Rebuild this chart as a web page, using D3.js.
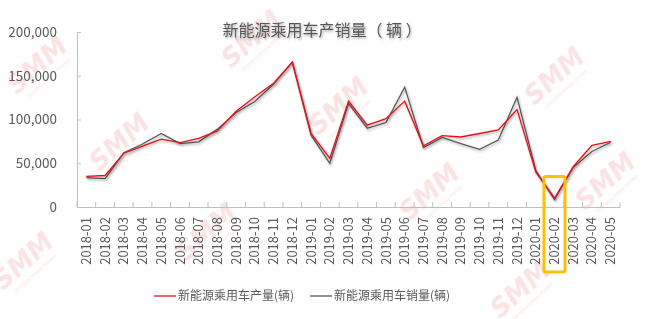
<!DOCTYPE html>
<html>
<head>
<meta charset="utf-8">
<script src="https://cdn.jsdelivr.net/npm/d3@7"></script>
<style>
  body { margin: 0; background: #fff; }
  text { font-family: "Noto Sans CJK SC", "Noto Sans", sans-serif; }
</style>
</head>
<body>
<svg id="chart" width="649" height="319"></svg>
<script>
const months = ["2018-01","2018-02","2018-03","2018-04","2018-05","2018-06","2018-07","2018-08","2018-09","2018-10","2018-11","2018-12",
  "2019-01","2019-02","2019-03","2019-04","2019-05","2019-06","2019-07","2019-08","2019-09","2019-10","2019-11","2019-12",
  "2020-01","2020-02","2020-03","2020-04","2020-05"];
// 产量 (red)
const production = [35000,36000,61500,69500,77500,73500,78500,87000,109500,126000,141500,165500,
  84000,55500,121000,93500,101000,121000,70000,81500,80000,84000,88000,111500,
  40000,10000,46000,70500,75000];
// 销量 (gray)
const sales = [33500,32500,62000,72000,84000,72500,74500,89000,108000,120500,140500,165500,
  82000,50000,118500,90000,96500,137000,68000,79500,72500,66000,76500,125500,
  42000,8500,45000,63500,74000];
const yTicks = [0, 50000, 100000, 150000, 200000];
const highlightMonth = "2020-02";
const title = "新能源乘用车产销量（ 辆 ）";
const seriesNames = ["新能源乘用车产量(辆)", "新能源乘用车销量(辆)"];

const svg = d3.select("#chart");
const textColor = "#595959";
const axisColor = "#bfbfbf";

const defs = svg.append("defs");
defs.append("filter").attr("id", "shadow")
  .attr("x", "-10%").attr("y", "-10%").attr("width", "120%").attr("height", "130%")
  .append("feDropShadow")
  .attr("dx", 1).attr("dy", 1.5).attr("stdDeviation", 0.8)
  .attr("flood-color", "#000").attr("flood-opacity", 0.35);

svg.append("rect").attr("width", 649).attr("height", 319).attr("fill", "#fff");

// SMM watermarks (decoration, kept inside the picture)
const marks = [[38,66],[252,40],[120,143],[339,107],[555,77],[207,233],[430,193],[606,182],[24,262],[521,290]];
const wm = svg.append("g").attr("opacity", 0.4);
marks.forEach(([mx, my]) => {
  const g = wm.append("g").attr("transform", `translate(${mx},${my}) rotate(-42)`);
  g.append("text").attr("text-anchor", "middle").attr("dy", "0.3em")
    .style("font-family", "'DejaVu Sans', sans-serif")
    .style("font-size", "26px").style("font-weight", "bold").style("font-style", "italic")
    .attr("fill", "#f4b8b8").text("SMM");
  g.append("text").attr("text-anchor", "middle").attr("y", 18)
    .style("font-size", "5px").attr("fill", "#f4b8b8").text("Shanghai Metals Market");
});

const x = d3.scaleBand().domain(months).range([77, 620]);
const y = d3.scaleLinear().domain([0, 200000]).range([207, 32]);
const cx = m => x(m) + x.bandwidth() / 2;

// title
svg.append("text")
  .attr("x", 322).attr("y", 36)
  .attr("text-anchor", "middle")
  .attr("fill", textColor)
  .attr("filter", "url(#shadow)")
  .style("font-size", "16px")
  .text(title);

// y axis
const yAxis = svg.append("g")
  .attr("transform", "translate(77,0)")
  .call(d3.axisLeft(y).tickValues(yTicks).tickSizeInner(-4).tickSizeOuter(0).tickPadding(20)
    .tickFormat(d3.format(",")));
yAxis.select(".domain").attr("stroke", axisColor);
yAxis.selectAll(".tick line").attr("stroke", axisColor);
yAxis.selectAll("text").attr("fill", textColor).style("font-size", "13.5px");

// x axis
const xAxis = svg.append("g")
  .attr("transform", "translate(0,207)")
  .call(d3.axisBottom(x).tickSize(0).tickSizeOuter(0));
xAxis.select(".domain").attr("stroke", axisColor);
xAxis.selectAll("text")
  .attr("transform", "rotate(-90)")
  .attr("x", -10).attr("y", 0).attr("dy", "0.35em")
  .attr("text-anchor", "end")
  .attr("fill", textColor)
  .style("font-size", "13px");
// boundary ticks
xAxis.selectAll(".btick")
  .data(months.map(m => x(m)).concat([x.range()[1]]))
  .join("line")
  .attr("class", "btick")
  .attr("x1", d => d).attr("x2", d => d)
  .attr("y1", 0).attr("y2", -5)
  .attr("stroke", axisColor);

// lines
const line = d3.line().x((d, i) => cx(months[i])).y(d => y(d));
svg.append("path").datum(sales)
  .attr("d", line).attr("fill", "none")
  .attr("stroke", "#595959").attr("stroke-width", 1.3)
  .attr("filter", "url(#shadow)");
svg.append("path").datum(production)
  .attr("d", line).attr("fill", "none")
  .attr("stroke", "#e8101a").attr("stroke-width", 1.3)
  .attr("filter", "url(#shadow)");

// highlight box
svg.append("rect")
  .attr("x", cx(highlightMonth) - 10.5)
  .attr("y", y(35000))
  .attr("width", 21)
  .attr("height", 272 - y(35000))
  .attr("rx", 2)
  .attr("fill", "none")
  .attr("stroke", "#ffc000")
  .attr("stroke-width", 3);

// legend
const legendItems = [
  { name: seriesNames[0], color: "#e8101a", x: 154 },
  { name: seriesNames[1], color: "#595959", x: 310 }
];
const legend = svg.append("g");
legendItems.forEach(it => {
  legend.append("line")
    .attr("x1", it.x).attr("x2", it.x + 22)
    .attr("y1", 296).attr("y2", 296)
    .attr("stroke", it.color).attr("stroke-width", 1.3);
  legend.append("text")
    .attr("x", it.x + 24).attr("y", 296).attr("dy", "0.35em")
    .attr("fill", textColor)
    .style("font-size", "12px")
    .text(it.name);
});
</script>
</body>
</html>
